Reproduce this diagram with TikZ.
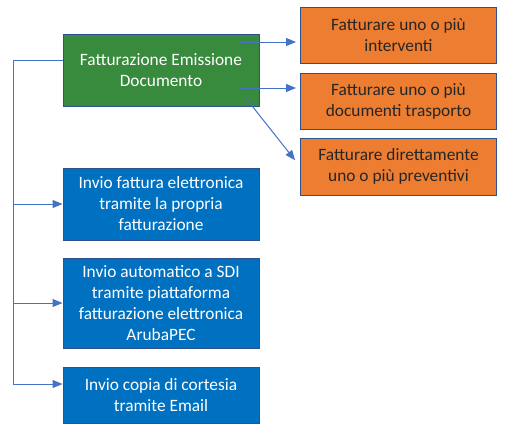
\documentclass[tikz,border=0pt]{standalone}
\usepackage{fontspec}
\setmainfont{Carlito}
\usetikzlibrary{arrows.meta,calc}
\definecolor{gfill}{HTML}{388A3C}
\definecolor{ofill}{HTML}{ED7D31}
\definecolor{bfill}{HTML}{0070C0}
\definecolor{bordc}{HTML}{2F528F}
\definecolor{linec}{HTML}{4472C4}
\begin{document}
\begin{tikzpicture}[x=0.75pt,y=-0.75pt,
  box/.style={draw=bordc, line width=0.75pt, minimum width=147pt, align=center, inner sep=0pt, font=\fontsize{13}{15.75}\selectfont},
  gbox/.style={box, fill=gfill, text=white},
  obox/.style={box, fill=ofill, text=black!85},
  bbox/.style={box, fill=bfill, text=white},
  conn/.style={draw=linec, line width=0.75pt},
  arr/.style={conn, -{Triangle[length=7.5pt,width=6pt]}}]
\useasboundingbox (0,0) rectangle (507,437);
\fill[white] (0,0) rectangle (507,437);
\node[gbox, minimum height=54pt] (g) at (161,70) {Fatturazione Emissione\\Documento};
\node[obox, minimum height=42pt] (o1) at (398.5,35) {Fatturare uno o più\\interventi};
\node[obox, minimum height=42pt] (o2) at (398.5,101) {Fatturare uno o più\\documenti trasporto};
\node[obox, minimum height=42.75pt] (o3) at (398.5,166.5) {Fatturare direttamente\\uno o più preventivi};
\node[bbox, minimum height=54pt] (b1) at (161,204) {Invio fattura elettronica\\tramite la propria\\fatturazione};
\node[bbox, minimum height=67.5pt] (b2) at (161,303) {Invio automatico a SDI\\tramite piattaforma\\fatturazione elettronica\\ArubaPEC};
\node[bbox, minimum height=42pt] (b3) at (161,395) {Invio copia di cortesia\\tramite Email};
\coordinate (top) at (13,60);
\coordinate (bot) at (13,384);
\coordinate (s1) at (239,42);
\coordinate (s2) at (239,88);
\coordinate (s3) at (245,97);
\draw[conn] (g.west |- top) -- (top) -- (bot);
\draw[arr] (top |- b1.west) -- (b1.west);
\draw[arr] (top |- b2.west) -- (b2.west);
\draw[arr] (bot) -- (bot -| b3.west);
\draw[arr] (s1) -- ([xshift=-3pt]s1 -| o1.west);
\draw[arr] (s2) -- ([xshift=-3pt]s2 -| o2.west);
\draw[arr, shorten >=6pt] (s3) -- (o3.west);
\end{tikzpicture}
\end{document}
